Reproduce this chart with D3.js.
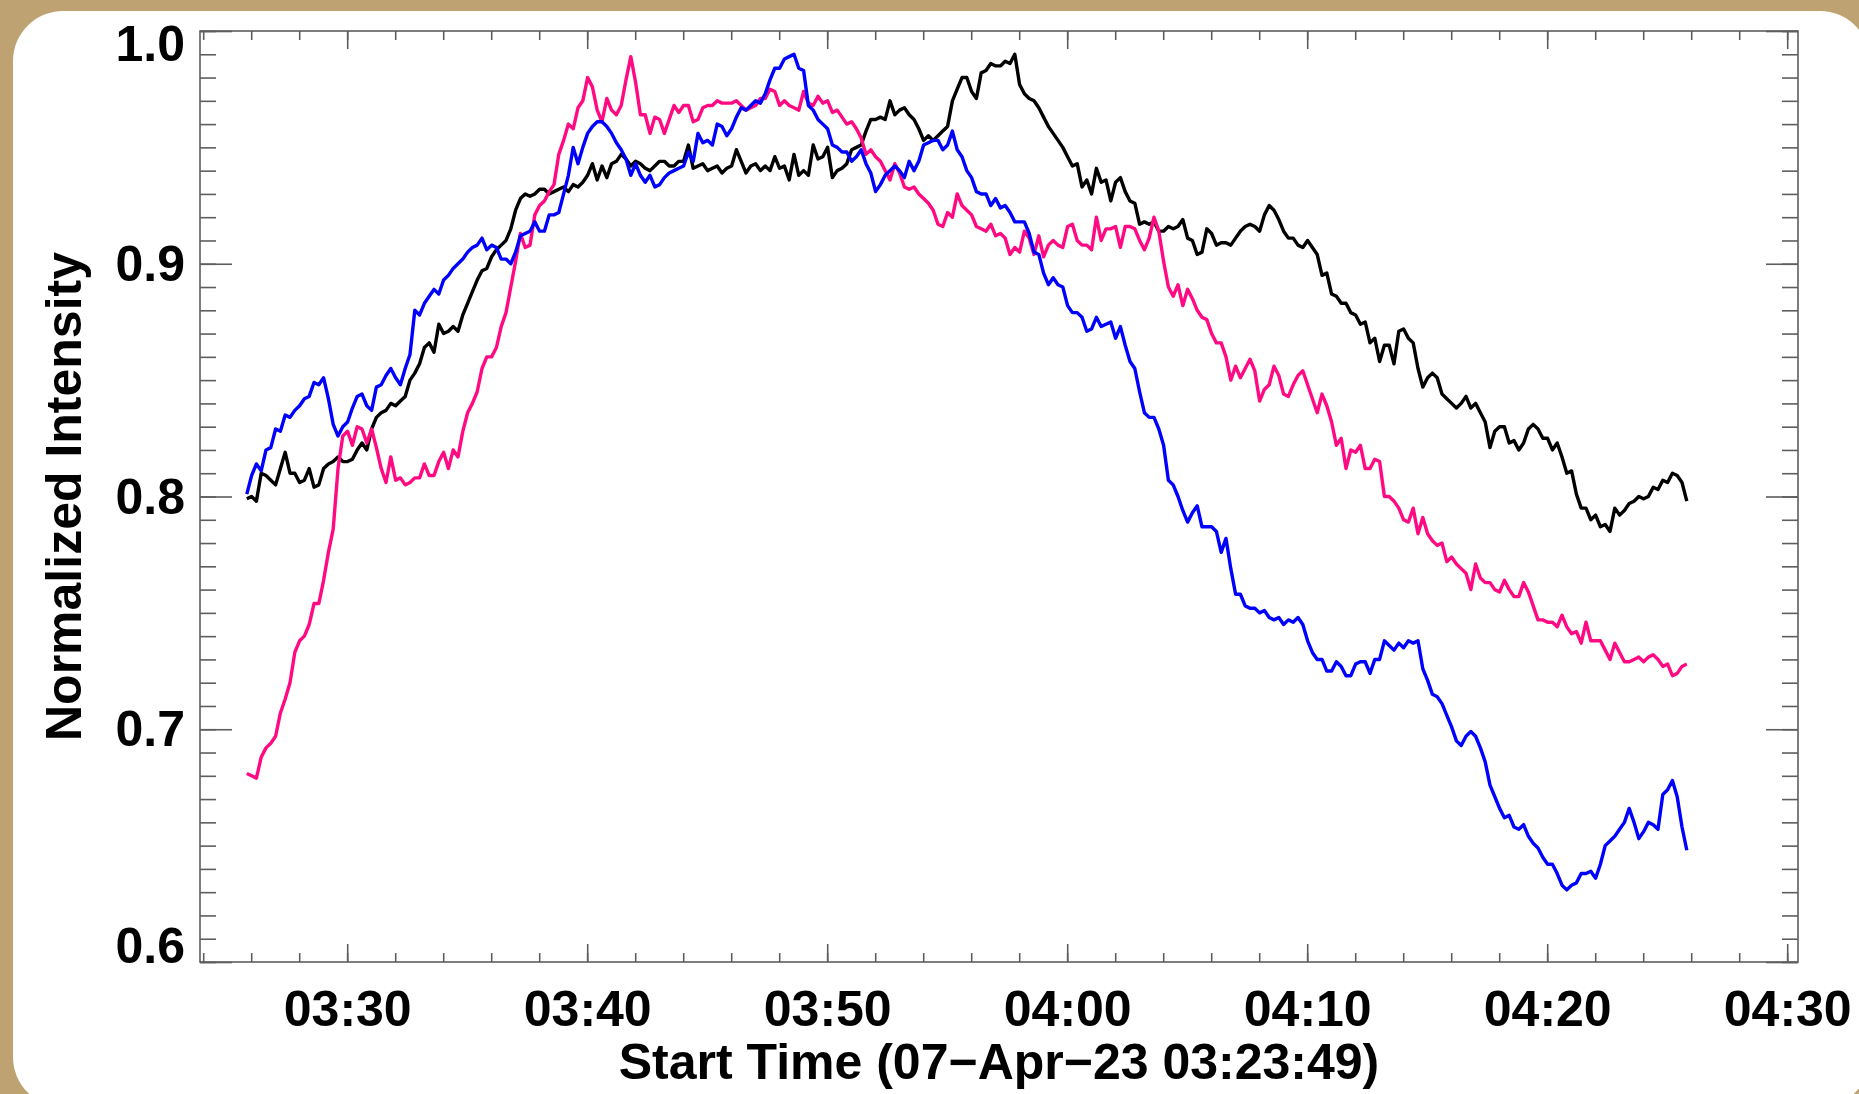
<!DOCTYPE html>
<html>
<head>
<meta charset="utf-8">
<script src="https://cdn.jsdelivr.net/npm/d3@7"></script>
<style>
  html, body { margin: 0; padding: 0; background: #bea272; }
  svg { display: block; }
  text { font-family: "Liberation Sans", Arial, Helvetica, sans-serif; font-weight: bold; font-size: 50px; fill: #000; }
</style>
</head>
<body>
<div id="chart"></div>
<script>
// --- Data: normalized intensity, one sample every 12 s starting 03:25:49 ---
const sampleStart = Date.UTC(2023, 3, 7, 3, 25, 49);
const cadenceSec = 12;

const blackSeries = [
  .799,.800,.798,.810,.809,.807,.805,.812,.819,.810,
  .810,.806,.807,.812,.804,.805,.812,.814,.815,.817,
  .815,.815,.816,.820,.823,.820,.829,.834,.836,.837,
  .840,.839,.841,.843,.850,.853,.857,.864,.866,.862,
  .874,.870,.871,.873,.871,.878,.883,.888,.893,.897,
  .898,.903,.906,.908,.910,.915,.923,.928,.930,.929,
  .930,.932,.932,.930,.931,.932,.933,.931,.934,.933,
  .935,.938,.943,.936,.942,.937,.943,.944,.947,.945,
  .942,.944,.943,.941,.940,.942,.944,.944,.942,.942,
  .944,.944,.951,.941,.942,.943,.940,.941,.942,.939,
  .941,.942,.949,.944,.939,.942,.943,.940,.942,.940,
  .946,.941,.942,.936,.947,.938,.940,.938,.951,.945,
  .946,.950,.937,.940,.941,.943,.949,.950,.951,.957,
  .962,.962,.963,.962,.970,.964,.966,.967,.964,.962,
  .958,.953,.955,.953,.955,.957,.959,.970,.975,.980,
  .980,.974,.971,.982,.983,.986,.985,.985,.987,.986,
  .990,.977,.973,.971,.970,.967,.963,.959,.956,.953,
  .950,.946,.942,.943,.933,.936,.930,.941,.935,.936,
  .927,.935,.937,.931,.927,.926,.917,.918,.917,.918,
  .914,.914,.916,.915,.916,.919,.911,.910,.904,.905,
  .915,.913,.908,.909,.909,.908,.911,.914,.916,.917,
  .916,.914,.921,.925,.923,.919,.914,.911,.911,.908,
  .907,.910,.907,.904,.895,.896,.887,.886,.883,.883,
  .879,.878,.874,.875,.866,.868,.858,.865,.865,.857,
  .871,.872,.868,.866,.855,.847,.851,.853,.851,.844,
  .842,.840,.838,.840,.843,.838,.840,.836,.832,.821,
  .828,.830,.830,.823,.824,.820,.823,.829,.831,.829,
  .825,.825,.820,.823,.817,.810,.811,.801,.795,.795,
  .790,.792,.787,.788,.785,.795,.792,.794,.797,.798,
  .800,.799,.800,.804,.803,.807,.806,.810,.809,.806,
  .798
];

const pinkSeries = [
  .681,.680,.679,.688,.692,.694,.697,.707,.713,.720,
  .733,.738,.740,.745,.754,.754,.764,.776,.786,.812,
  .826,.828,.822,.830,.829,.823,.829,.821,.812,.806,
  .817,.807,.808,.805,.806,.808,.808,.814,.809,.809,
  .815,.819,.812,.820,.817,.828,.836,.840,.845,.855,
  .860,.860,.864,.873,.879,.890,.901,.913,.907,.908,
  .921,.925,.927,.931,.934,.947,.953,.960,.958,.967,
  .970,.980,.976,.966,.961,.971,.966,.964,.968,.979,
  .989,.978,.964,.964,.956,.963,.962,.956,.962,.968,
  .965,.968,.968,.961,.962,.967,.968,.968,.970,.969,
  .969,.969,.970,.968,.966,.967,.968,.971,.971,.975,
  .974,.968,.970,.968,.967,.966,.974,.969,.968,.972,
  .969,.970,.965,.966,.963,.960,.961,.958,.954,.947,
  .949,.946,.944,.940,.936,.943,.939,.933,.932,.933,
  .930,.928,.926,.923,.917,.916,.922,.920,.930,.925,
  .923,.921,.916,.915,.914,.917,.912,.913,.911,.904,
  .907,.905,.914,.911,.904,.912,.903,.908,.910,.908,
  .907,.916,.917,.910,.908,.908,.906,.920,.910,.915,
  .915,.916,.907,.916,.916,.915,.910,.906,.911,.920,
  .914,.901,.890,.886,.891,.882,.889,.885,.880,.877,
  .876,.870,.866,.866,.860,.850,.856,.851,.855,.859,
  .854,.841,.846,.848,.856,.852,.844,.843,.848,.852,
  .854,.848,.842,.836,.844,.839,.832,.822,.825,.812,
  .820,.819,.822,.812,.812,.816,.815,.800,.800,.798,
  .795,.790,.789,.795,.784,.791,.784,.781,.779,.780,
  .772,.774,.771,.769,.767,.760,.771,.765,.763,.763,
  .760,.759,.764,.760,.757,.757,.763,.759,.753,.747,
  .747,.746,.746,.744,.749,.744,.741,.742,.737,.746,
  .738,.738,.738,.734,.730,.737,.733,.729,.729,.730,
  .731,.729,.731,.732,.730,.727,.728,.723,.724,.727,
  .728
];

const blueSeries = [
  .801,.809,.814,.811,.820,.821,.829,.828,.835,.834,
  .837,.839,.842,.843,.849,.848,.851,.842,.831,.826,
  .830,.832,.838,.843,.844,.839,.837,.847,.848,.852,
  .855,.851,.848,.855,.861,.880,.878,.883,.886,.889,
  .887,.893,.895,.898,.900,.902,.905,.907,.908,.911,
  .906,.908,.907,.902,.902,.900,.905,.912,.913,.914,
  .918,.914,.914,.921,.921,.922,.930,.938,.950,.943,
  .950,.956,.959,.961,.961,.959,.956,.952,.949,.945,
  .938,.943,.938,.935,.938,.933,.934,.937,.939,.940,
  .941,.942,.948,.944,.956,.952,.953,.951,.960,.959,
  .955,.958,.963,.967,.966,.968,.970,.969,.973,.979,
  .984,.984,.988,.989,.990,.984,.983,.968,.966,.962,
  .960,.958,.951,.950,.948,.948,.944,.946,.949,.943,
  .939,.931,.934,.938,.940,.942,.940,.937,.944,.940,
  .944,.951,.952,.953,.953,.949,.951,.957,.949,.946,
  .940,.937,.931,.930,.930,.925,.928,.924,.925,.922,
  .918,.918,.918,.913,.905,.904,.896,.891,.894,.891,
  .890,.882,.879,.879,.877,.871,.872,.877,.873,.874,
  .875,.868,.873,.865,.858,.855,.845,.836,.834,.834,
  .829,.822,.807,.805,.800,.794,.789,.793,.796,.787,
  .787,.787,.785,.776,.782,.769,.758,.758,.753,.752,
  .752,.750,.751,.748,.747,.748,.745,.747,.746,.748,
  .745,.738,.733,.730,.730,.725,.725,.729,.727,.723,
  .723,.728,.729,.729,.724,.730,.730,.738,.736,.734,
  .737,.735,.738,.737,.738,.726,.721,.715,.714,.711,
  .706,.701,.695,.693,.697,.699,.697,.692,.686,.676,
  .671,.666,.662,.663,.658,.657,.659,.654,.651,.649,
  .645,.642,.642,.638,.633,.631,.633,.634,.638,.638,
  .639,.636,.642,.650,.652,.654,.657,.660,.666,.660,
  .653,.656,.660,.659,.657,.672,.674,.678,.671,.658,
  .648
];

// axis range and labels
const axisStart = Date.UTC(2023, 3, 7, 3, 23, 52);
const axisEnd = Date.UTC(2023, 3, 7, 4, 30, 27);
const yDomain = [0.6, 1.0];
const yMajorTicks = [0.6, 0.7, 0.8, 0.9, 1.0];
const xTitle = "Start Time (07\u2212Apr\u221223 03:23:49)";
const yTitle = "Normalized Intensity";

// --- Layout ---
const W = 1859, H = 1094;
const plot = { left: 200, right: 1798, top: 31, bottom: 962 };
const axisColor = "#5e5e5e";

const svg = d3.select("#chart").append("svg")
  .attr("width", W)
  .attr("height", H);

// tan backdrop with the white rounded card
svg.append("rect").attr("width", W).attr("height", H).attr("fill", "#bea272");
svg.append("rect")
  .attr("x", 13).attr("y", 11)
  .attr("width", 1857).attr("height", 1096)
  .attr("rx", 50)
  .attr("fill", "#fff");

// Scales
const x = d3.scaleUtc()
  .domain([new Date(axisStart), new Date(axisEnd)])
  .range([plot.left, plot.right]);

const y = d3.scaleLinear()
  .domain(yDomain)
  .range([plot.bottom, plot.top]);

const majorX = d3.utcMinute.every(10).range(new Date(axisStart), new Date(axisEnd));
const minorX = d3.utcMinute.every(2).range(new Date(axisStart), new Date(axisEnd));
const minorY = d3.range(60, 101).map(d => d / 100);

function cleanAxis(g) {
  g.attr("font-size", null).attr("font-family", null);
  g.select(".domain").remove();
  g.selectAll(".tick line").attr("stroke", axisColor).attr("stroke-width", 1.6);
}

// X axes (bottom with labels, top mirrored)
svg.append("g").attr("transform", `translate(0,${plot.bottom})`)
  .call(d3.axisBottom(x).tickValues(minorX).tickSize(-9).tickFormat(""))
  .call(cleanAxis);
svg.append("g").attr("transform", `translate(0,${plot.bottom})`)
  .call(d3.axisBottom(x).tickValues(majorX).tickSize(-18).tickPadding(28)
    .tickFormat(d3.utcFormat("%H:%M")))
  .call(cleanAxis);
svg.append("g").attr("transform", `translate(0,${plot.top})`)
  .call(d3.axisTop(x).tickValues(minorX).tickSize(-9).tickFormat(""))
  .call(cleanAxis);
svg.append("g").attr("transform", `translate(0,${plot.top})`)
  .call(d3.axisTop(x).tickValues(majorX).tickSize(-18).tickFormat(""))
  .call(cleanAxis);

// Y axes (left with labels, right mirrored)
svg.append("g").attr("transform", `translate(${plot.left},0)`)
  .call(d3.axisLeft(y).tickValues(minorY).tickSize(-16).tickFormat(""))
  .call(cleanAxis);
const yLeft = svg.append("g").attr("transform", `translate(${plot.left},0)`)
  .call(d3.axisLeft(y).tickValues(yMajorTicks).tickSize(-32).tickPadding(15)
    .tickFormat(d3.format(".1f")))
  .call(cleanAxis);
svg.append("g").attr("transform", `translate(${plot.right},0)`)
  .call(d3.axisRight(y).tickValues(minorY).tickSize(-16).tickFormat(""))
  .call(cleanAxis);
svg.append("g").attr("transform", `translate(${plot.right},0)`)
  .call(d3.axisRight(y).tickValues(yMajorTicks).tickSize(-32).tickFormat(""))
  .call(cleanAxis);

// end labels are nudged inside the frame like the original
yLeft.selectAll(".tick text")
  .attr("dy", d => d === yDomain[1] ? "0.58em" : d === yDomain[0] ? "0em" : "0.33em");

// Frame
svg.append("rect")
  .attr("x", plot.left).attr("y", plot.top)
  .attr("width", plot.right - plot.left)
  .attr("height", plot.bottom - plot.top)
  .attr("fill", "none")
  .attr("stroke", axisColor)
  .attr("stroke-width", 1.6);

// Series
const times = blackSeries.map((_, i) => new Date(sampleStart + i * cadenceSec * 1000));
const line = d3.line()
  .x((d, i) => x(times[i]))
  .y(d => y(d));

const series = [
  { name: "black", values: blackSeries, color: "#000000" },
  { name: "pink", values: pinkSeries, color: "#ff0a82" },
  { name: "blue", values: blueSeries, color: "#0000ff" }
];

svg.append("g").attr("class", "lines")
  .selectAll("path")
  .data(series)
  .enter().append("path")
  .attr("d", d => line(d.values))
  .attr("fill", "none")
  .attr("stroke", d => d.color)
  .attr("stroke-width", 3.4)
  .attr("stroke-linejoin", "round");

// Titles
svg.append("text")
  .attr("x", (plot.left + plot.right) / 2)
  .attr("y", 1079)
  .attr("text-anchor", "middle")
  .text(xTitle);

svg.append("text")
  .attr("transform", `translate(81,${(plot.top + plot.bottom) / 2}) rotate(-90)`)
  .attr("text-anchor", "middle")
  .text(yTitle);
</script>
</body>
</html>
